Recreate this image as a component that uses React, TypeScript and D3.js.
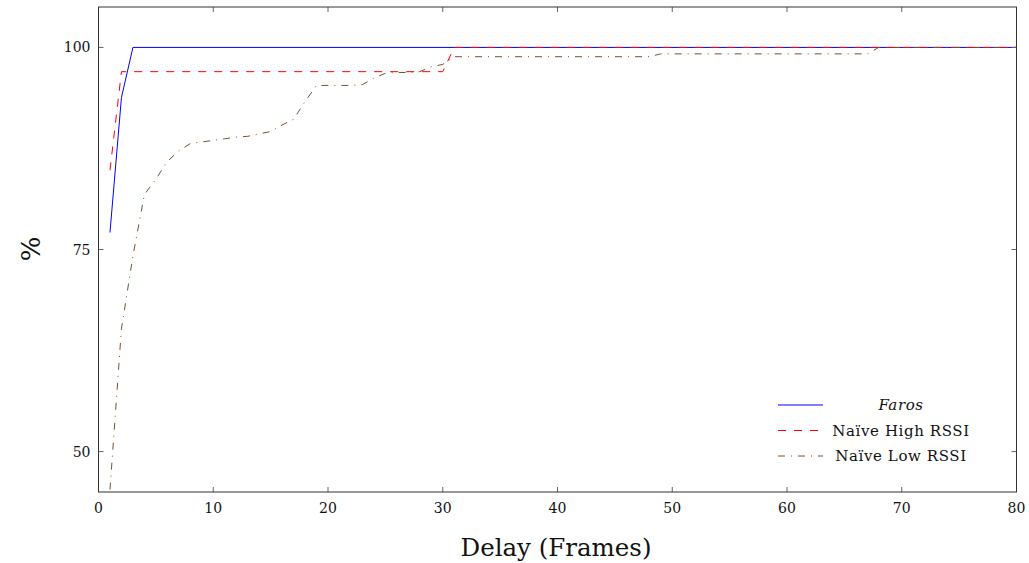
import React, { useEffect, useRef } from 'react';
import * as d3 from 'd3';

// Series (delay in frames -> %), listed at slope changes
const farosDelay = [1, 2, 3, 80];
const farosPct = [77.1, 93.8, 100, 100];

const highDelay = [1, 2, 30, 31, 80];
const highPct = [84.8, 97.0, 97.0, 100, 100];

const lowDelay = [1, 2, 3, 4, 5, 6, 7, 8, 9, 10, 11, 12, 13, 14, 15, 16, 17, 18, 19, 20, 21, 22, 23, 24, 25, 26, 27, 28, 29, 30, 31, 48, 49, 67, 68, 80];
const lowPct = [45.3, 65.2, 74.2, 81.8, 83.7, 85.9, 87.2, 88.1, 88.3, 88.5, 88.7, 88.9, 89.0, 89.3, 89.6, 90.4, 91.1, 93.3, 95.3, 95.3, 95.3, 95.3, 95.4, 96.2, 96.8, 96.9, 96.9, 97.0, 97.6, 97.9, 98.85, 98.85, 99.2, 99.2, 100, 100];

const xTicks = [0, 10, 20, 30, 40, 50, 60, 70, 80];
const yTicks = [50, 75, 100];

const seriesNames = ['Faros', 'Naïve High RSSI', 'Naïve Low RSSI'];
const seriesColors = ['#0000ff', '#ff0000', '#7a5030'];
const seriesDash = ['none', '8 8', '7 6 1 6'];

const W = 1029;
const H = 563;
const FONT = '"DejaVu Serif", serif';

const App = () => {
  const svgRef = useRef<SVGSVGElement>(null);

  useEffect(() => {
    const svg = d3.select(svgRef.current);
    svg.selectAll('*').remove();

    const x = d3.scaleLinear().domain([0, 80]).range([98.5, 1016.5]);
    const y = d3.scaleLinear().domain([45, 105]).range([492, 7]);

    // clip for the curves
    svg.append('defs').append('clipPath').attr('id', 'plot-clip')
      .append('rect')
      .attr('x', x(0)).attr('y', y(105))
      .attr('width', x(80) - x(0)).attr('height', y(45) - y(105));

    const line = d3.line<[number, number]>()
      .x(d => x(d[0]))
      .y(d => y(d[1]));

    const series = [
      d3.zip(farosDelay, farosPct),
      d3.zip(highDelay, highPct),
      d3.zip(lowDelay, lowPct),
    ] as [number, number][][];

    const g = svg.append('g').attr('clip-path', 'url(#plot-clip)');
    series.forEach((pts, i) => {
      g.append('path')
        .attr('d', line(pts))
        .attr('fill', 'none')
        .attr('stroke', seriesColors[i])
        .attr('stroke-width', 1)
        .attr('stroke-dasharray', seriesDash[i]);
    });

    // ticks, inward on all four sides
    const tickLen = 5;
    const ticks = svg.append('g').attr('stroke', '#666').attr('stroke-width', 1);
    xTicks.forEach(t => {
      ticks.append('line').attr('x1', x(t)).attr('x2', x(t)).attr('y1', y(45)).attr('y2', y(45) - tickLen);
      ticks.append('line').attr('x1', x(t)).attr('x2', x(t)).attr('y1', y(105)).attr('y2', y(105) + tickLen);
    });
    yTicks.forEach(t => {
      ticks.append('line').attr('x1', x(0)).attr('x2', x(0) + tickLen).attr('y1', y(t)).attr('y2', y(t));
      ticks.append('line').attr('x1', x(80)).attr('x2', x(80) - tickLen).attr('y1', y(t)).attr('y2', y(t));
    });

    // frame
    svg.append('rect')
      .attr('x', x(0)).attr('y', y(105))
      .attr('width', x(80) - x(0)).attr('height', y(45) - y(105))
      .attr('fill', 'none')
      .attr('stroke', '#333')
      .attr('stroke-width', 1);

    // tick labels
    svg.append('g').selectAll('text').data(xTicks).enter().append('text')
      .attr('x', d => x(d)).attr('y', y(45) + 21)
      .attr('text-anchor', 'middle')
      .attr('font-family', FONT).attr('font-size', 14)
      .attr('fill', '#111')
      .text(d => d);

    svg.append('g').selectAll('text').data(yTicks).enter().append('text')
      .attr('x', x(0) - 8).attr('y', d => y(d) + 5)
      .attr('text-anchor', 'end')
      .attr('font-family', FONT).attr('font-size', 14)
      .attr('fill', '#111')
      .text(d => d);

    // axis labels
    svg.append('text')
      .attr('x', 556).attr('y', 556)
      .attr('text-anchor', 'middle')
      .attr('font-family', FONT).attr('font-size', 24.5)
      .attr('fill', '#111')
      .text('Delay (Frames)');

    svg.append('text')
      .attr('transform', 'translate(40,249) rotate(-90)')
      .attr('text-anchor', 'middle')
      .attr('font-family', FONT).attr('font-size', 26)
      .attr('fill', '#111')
      .text('%');

    // legend (no frame, centred text)
    const legend = svg.append('g');
    seriesNames.forEach((name, i) => {
      const ly = 405 + i * 25.5;
      legend.append('line')
        .attr('x1', 778).attr('x2', 823).attr('y1', ly).attr('y2', ly)
        .attr('stroke', seriesColors[i]).attr('stroke-width', 1)
        .attr('stroke-dasharray', seriesDash[i]);
      legend.append('text')
        .attr('x', 901).attr('y', ly + 5)
        .attr('text-anchor', 'middle')
        .attr('font-family', FONT).attr('font-size', 15)
        .attr('letter-spacing', 0.6)
        .attr('font-style', i === 0 ? 'italic' : 'normal')
        .attr('fill', '#111')
        .text(name);
    });
  }, []);

  return (
    <svg
      ref={svgRef}
      width={W}
      height={H}
      style={{ position: 'absolute', left: 0, top: 0, background: '#fff' }}
    />
  );
};

export default App;
